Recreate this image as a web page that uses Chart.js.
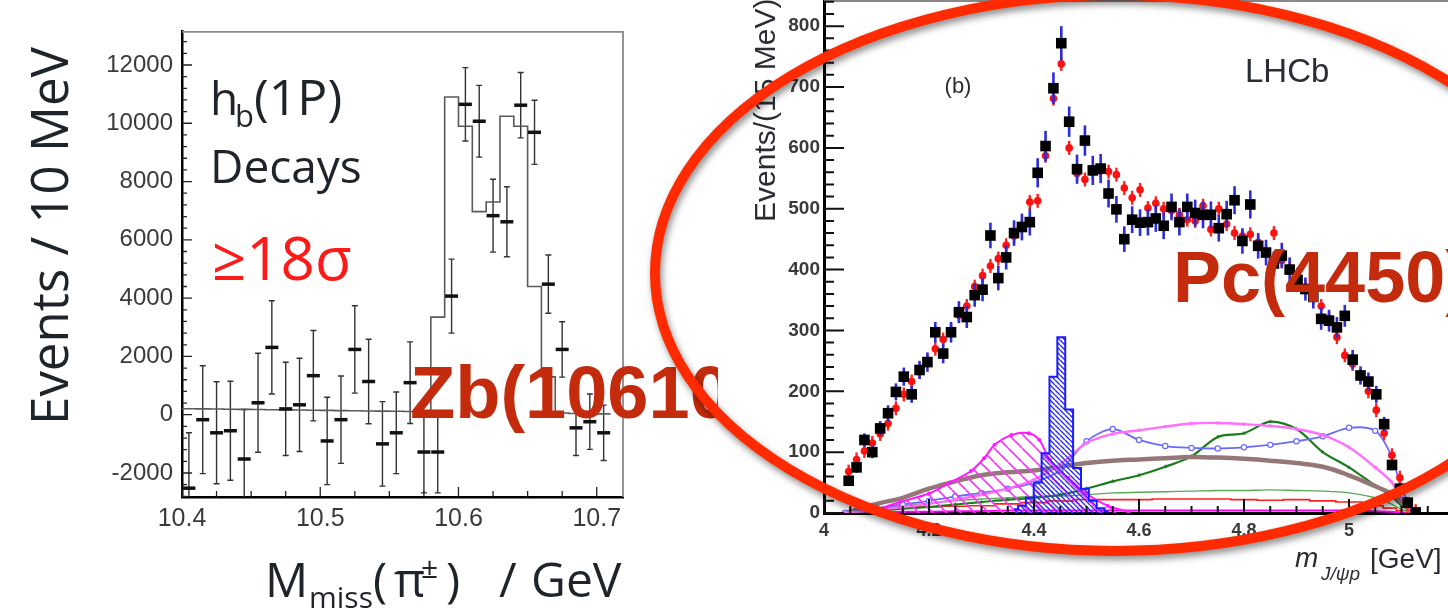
<!DOCTYPE html>
<html>
<head>
<meta charset="utf-8">
<script src="https://cdn.jsdelivr.net/npm/chart.js@4.4.1/dist/chart.umd.min.js"></script>
<style>
html, body { margin: 0; padding: 0; background: #fff; }
#wrap { position: relative; width: 1448px; height: 616px; overflow: hidden; }
#leftChart, #rightChart { position: absolute; left: 0; top: 0; }
</style>
</head>
<body>
<div id="wrap">
<canvas id="leftChart" width="718" height="616"></canvas>
<canvas id="rightChart" width="1448" height="616"></canvas>
</div>
<script>
// left panel : h_b(1P) yield vs missing mass (10 MeV bins)
var leftMass = [10.405,10.415,10.425,10.435,10.445,10.455,10.465,10.475,10.485,10.495,10.505,10.515,10.525,10.535,10.545,10.555,10.565,10.575,10.585,10.595,10.605,10.615,10.625,10.635,10.645,10.655,10.665,10.675,10.685,10.695,10.705];
var leftEvents = [-2520,-170,-620,-550,-1520,410,2310,200,340,1340,-900,-170,2240,1140,-1000,-620,1100,-1280,-1280,4070,10650,10070,6830,6620,10620,9690,4480,2240,-450,-240,-620];
var leftErrors = [1900,1850,1750,1700,1700,1700,1600,1600,1600,1550,1500,1500,1500,1450,1450,1400,1400,1400,1400,1270,1260,1230,1250,1200,1120,1100,1000,950,950,950,950];
var leftFit = [210,205,200,195,190,182,178,172,165,160,155,150,142,138,130,125,120,112,108,3350,10900,9900,6970,7300,10240,9900,4400,1300,60,40,30];
var leftYTicks = [-2000,0,2000,4000,6000,8000,10000,12000];
var leftXTicks = [10.4,10.5,10.6,10.7];

// right panel : LHCb m(J/psi p), 15 MeV bins
var rightMass = [4.047,4.062,4.077,4.092,4.107,4.122,4.137,4.152,4.167,4.182,
  4.197,4.212,4.227,4.242,4.257,4.272,4.287,4.302,4.317,4.332,
  4.347,4.362,4.377,4.392,4.407,4.422,4.437,4.452,4.467,4.482,
  4.497,4.512,4.527,4.542,4.557,4.572,4.587,4.602,4.617,4.632,
  4.647,4.662,4.677,4.692,4.707,4.722,4.737,4.752,4.767,4.782,
  4.797,4.812,4.827,4.842,4.857,4.872,4.887,4.902,4.917,4.932,
  4.947,4.962,4.977,4.992,5.007,5.022,5.037,5.052,5.067,5.082,
  5.097,5.112,5.127];
var rightData = [53,75,120,100,139,164,199,224,195,235,
  248,297,262,297,330,322,358,367,456,386,
  420,460,470,478,559,603,698,772,643,565,
  612,563,566,525,499,450,482,477,478,484,
  472,503,478,503,493,490,490,468,491,514,
  447,507,439,428,410,423,400,383,368,355,
  319,316,305,324,252,226,216,195,146,79,
  40,17,1];
var rightErrors = [7,9,11,10,12,13,14,15,14,15,
  16,17,16,17,18,18,19,19,21,20,
  20,21,22,22,24,25,26,28,25,24,
  25,24,24,23,22,21,22,22,22,22,
  22,22,22,22,22,22,22,22,22,23,
  21,23,21,21,20,21,20,20,19,19,
  18,18,17,18,16,15,15,14,12,9,
  6,4,1];
var rightFit = [68,88,102,115,130,147,172,195,216,232,
  250,270,285,300,325,340,372,390,406,418,
  440,455,470,511,513,587,681,738,600,558,
  548,560,562,561,556,534,518,531,501,509,
  500,497,490,482,480,505,466,500,475,460,
  455,458,445,430,460,415,403,390,371,355,
  340,320,289,259,245,225,200,169,131,95,
  58,15,3];

// fit components
var compMass = [4.04,4.1,4.15,4.2,4.25,4.3,4.35,4.4,4.45,4.5,4.55,4.6,4.65,4.7,4.75,4.8,4.85,4.9,4.95,5.0,5.05,5.08,5.1,5.12];
var brownComp = [0,15,25,40,52,62,67,70,76,82,86,88,90,92,91,89,86,82,76,62,44,32,18,3];
var blueComp = [0,8,14,20,27,33,40,50,70,118,138,120,110,107,106,108,112,118,126,140,135,95,40,5];
var pinkComp = [0,5,10,15,22,30,40,55,80,115,130,136,142,147,148,146,143,138,128,108,75,52,25,3];
var greenComp = [0,4,7,10,14,18,22,25,30,40,52,62,76,93,125,131,150,138,100,75,45,28,12,2];
var lightGreenComp = [0,8,12,16,20,23,25,27,28,30,33,34,35,36,37,37,38,37,36,33,25,15,6,1];
var redComp = [0,8,10,10,11,12,15,17,20,22,22,22,23,23,23,22,21,22,20,18,12,8,4,0];
var magentaLowComp = [0,1,2,2,3,3,4,4,4,4,4,4,4,4,4,4,4,4,4,4,3,2,1,0];
var lambdaMass = [4.10,4.145,4.2,4.24,4.28,4.305,4.325,4.357,4.39,4.41,4.43,4.465,4.5,4.54,4.58];
var lambdaComp = [5,18,32,50,69,90,112,128,131,120,88,58,32,12,2];
var narrowMass = [4.362,4.377,4.392,4.407,4.422,4.437,4.452,4.467,4.482,4.497,4.512,4.527,4.542];
var narrowComp = [6,12,25,50,98,224,289,170,74,40,20,8,3];

var rightYTicks = [0,100,200,300,400,500,600,700,800];
var rightXTicks = [4,4.2,4.4,4.6,4.8,5];

Chart.defaults.font.family = 'Liberation Sans';
Chart.defaults.animation = false;

function pts(xs, ys) {
  return xs.map(function (x, i) { return { x: x, y: ys[i] }; });
}

function hatch(color, gap, width) {
  var c = document.createElement('canvas');
  c.width = gap; c.height = gap;
  var g = c.getContext('2d');
  g.strokeStyle = color;
  g.lineWidth = width;
  g.beginPath();
  for (var k = -1; k <= 1; k++) {
    g.moveTo(k * gap, 0);
    g.lineTo(k * gap + gap, gap);
  }
  g.stroke();
  return g.createPattern(c, 'repeat');
}

function steps(from, to, step) {
  var out = [];
  var n = Math.round((to - from) / step);
  for (var k = 0; k <= n; k++) out.push(from + k * step);
  return out;
}

function noPad(s) {
  s.paddingTop = 0; s.paddingBottom = 0; s.paddingLeft = 0; s.paddingRight = 0;
}

// frame + inward tick marks
var frameTicks = {
  id: 'frameTicks',
  afterDraw: function (chart, args, o) {
    var ctx = chart.ctx, a = chart.chartArea, xs = chart.scales.x, ys = chart.scales.y;
    ctx.save();
    ctx.strokeStyle = o.frameColor;
    ctx.lineWidth = o.frameWidth;
    ctx.beginPath();
    ctx.moveTo(a.left, a.top + o.frameWidth / 2);
    ctx.lineTo(a.right, a.top + o.frameWidth / 2);
    if (o.rightSide) ctx.lineTo(a.right, a.bottom);
    ctx.stroke();
    ctx.strokeStyle = o.tickColor;
    ctx.lineWidth = o.tickWidth;
    ctx.beginPath();
    o.yMinor.forEach(function (v) {
      var p = ys.getPixelForValue(v);
      if (p < a.top || p > a.bottom) return;
      var len = o.yMajor.indexOf(v) >= 0 ? o.yMajorLen : o.yMinorLen;
      ctx.moveTo(a.left, p); ctx.lineTo(a.left + len, p);
    });
    o.xMinor.forEach(function (v) {
      var p = xs.getPixelForValue(v);
      if (p < a.left || p > a.right) return;
      var major = o.xMajor.some(function (m) { return Math.abs(m - v) < 1e-6; });
      ctx.moveTo(p, a.bottom); ctx.lineTo(p, a.bottom - (major ? o.xMajorLen : o.xMinorLen));
    });
    ctx.stroke();
    ctx.restore();
  }
};

function put(ctx, txt, x, y, font, color, align) {
  ctx.font = font;
  ctx.fillStyle = color;
  ctx.textAlign = align || 'left';
  ctx.fillText(txt, x, y);
}

// ---------- left chart ----------
var leftBars = {
  id: 'leftBars',
  beforeDatasetsDraw: function (chart) {
    var ctx = chart.ctx, a = chart.chartArea, xs = chart.scales.x, ys = chart.scales.y;
    ctx.save();
    ctx.beginPath();
    ctx.rect(a.left, a.top, a.right - a.left, a.bottom - a.top);
    ctx.clip();
    ctx.strokeStyle = '#333';
    ctx.lineWidth = 1.4;
    leftMass.forEach(function (m, i) {
      var px = xs.getPixelForValue(m);
      var lo = ys.getPixelForValue(leftEvents[i] - leftErrors[i]);
      var hi = ys.getPixelForValue(leftEvents[i] + leftErrors[i]);
      ctx.beginPath();
      ctx.moveTo(px, lo); ctx.lineTo(px, hi);
      ctx.moveTo(px - 3, lo); ctx.lineTo(px + 3, lo);
      ctx.moveTo(px - 3, hi); ctx.lineTo(px + 3, hi);
      ctx.stroke();
    });
    ctx.restore();
  }
};

var leftText = {
  id: 'leftText',
  afterDraw: function (chart) {
    var ctx = chart.ctx;
    var ink = '#1f242b';
    ctx.save();
    ctx.textBaseline = 'alphabetic';
    ctx.save();
    ctx.translate(68, 236);
    ctx.rotate(-Math.PI / 2);
    put(ctx, 'Events / 10 MeV', 0, 0, '51px "Open Sans"', ink, 'center');
    ctx.restore();

    put(ctx, 'M', 265, 597, '48px "Open Sans"', ink);
    put(ctx, 'miss', 309, 608, '30px "Open Sans"', ink);
    put(ctx, '(', 373, 597, '48px "Open Sans"', ink);
    put(ctx, '\u03c0', 394, 597, '48px "Open Sans"', ink);
    put(ctx, '\u00b1', 421, 578, '30px "Open Sans"', ink);
    put(ctx, ')', 446, 597, '48px "Open Sans"', ink);
    put(ctx, '/', 499, 597, '48px "Open Sans"', ink);
    put(ctx, 'GeV', 531, 597, '48px "Open Sans"', ink);

    put(ctx, 'h', 210, 115, '46px "Open Sans"', ink);
    put(ctx, 'b', 235, 127, '31px "Open Sans"', ink);
    put(ctx, '(1P)', 254, 115, '50px "Open Sans"', ink);
    put(ctx, 'Decays', 210, 183, '46px "Open Sans"', ink);
    put(ctx, '\u226518\u03c3', 212, 280, '60px "Open Sans"', '#ff1a1a');

    put(ctx, 'Zb(10610)', 410, 418, 'bold 74px "Liberation Sans"', '#c42a0c');
    ctx.restore();
  }
};

var leftHist = leftMass.map(function (m, i) { return { x: m - 0.005, y: leftFit[i] }; });
leftHist.push({ x: leftMass[leftMass.length - 1] + 0.005, y: leftFit[leftFit.length - 1] });

new Chart(document.getElementById('leftChart'), {
  type: 'scatter',
  data: {
    datasets: [{
      label: 'data',
      data: pts(leftMass, leftEvents),
      pointStyle: 'line',
      pointRadius: 6.5,
      pointBorderWidth: 3.5,
      pointBorderColor: '#111',
      showLine: false
    }, {
      type: 'line',
      label: 'fit',
      data: leftHist,
      stepped: 'after',
      borderColor: '#5a5a5a',
      borderWidth: 1.6,
      pointRadius: 0,
      fill: false
    }]
  },
  options: {
    responsive: false,
    layout: { autoPadding: false, padding: { top: 31, right: 95, left: 0, bottom: 0 } },
    plugins: {
      legend: { display: false },
      tooltip: { enabled: false },
      frameTicks: {
        frameColor: '#8a8a8a', frameWidth: 1.8, rightSide: true,
        tickColor: '#222', tickWidth: 1.3,
        yMinor: steps(-2800, 13200, 400), yMajor: leftYTicks, yMajorLen: 10, yMinorLen: 5,
        xMinor: steps(10.4, 10.7, 0.025), xMajor: leftXTicks, xMajorLen: 10, xMinorLen: 6
      }
    },
    scales: {
      x: {
        type: 'linear', min: 10.4, max: 10.719,
        afterBuildTicks: function (s) { s.ticks = leftXTicks.map(function (v) { return { value: v }; }); },
        afterFit: function (s) { s.height = 119; noPad(s); },
        grid: { display: false, drawTicks: false },
        border: { display: true, color: '#000', width: 2.5 },
        ticks: { padding: 7, maxRotation: 0, color: '#3a3a3a', font: { size: 25 },
          callback: function (v) { return String(v); } }
      },
      y: {
        type: 'linear', min: -2823, max: 13166,
        afterBuildTicks: function (s) { s.ticks = leftYTicks.map(function (v) { return { value: v }; }); },
        afterFit: function (s) { s.width = 182; noPad(s); },
        grid: { display: false, drawTicks: false },
        border: { display: true, color: '#000', width: 2.5 },
        ticks: { padding: 9, color: '#3a3a3a', font: { size: 24 },
          callback: function (v) { return String(v); } }
      }
    }
  },
  plugins: [leftBars, frameTicks, leftText]
});

// ---------- right chart ----------
var rightBars = {
  id: 'rightBars',
  beforeDatasetDraw: function (chart, args) {
    if (args.index !== 0 && args.index !== 1) return;
    var ctx = chart.ctx, a = chart.chartArea, xs = chart.scales.x, ys = chart.scales.y;
    ctx.save();
    ctx.beginPath();
    ctx.rect(a.left, a.top, a.right - a.left, a.bottom - a.top);
    ctx.clip();
    if (args.index === 0) {
      ctx.strokeStyle = '#2b2bd8';
      ctx.lineWidth = 2.6;
      rightMass.forEach(function (m, i) {
        var px = xs.getPixelForValue(m);
        ctx.beginPath();
        ctx.moveTo(px, ys.getPixelForValue(rightData[i] - rightErrors[i]));
        ctx.lineTo(px, ys.getPixelForValue(rightData[i] + rightErrors[i]));
        ctx.stroke();
      });
    } else {
      ctx.strokeStyle = '#ff2020';
      ctx.lineWidth = 2.4;
      rightMass.forEach(function (m, i) {
        var px = xs.getPixelForValue(m), py = ys.getPixelForValue(rightFit[i]);
        ctx.beginPath();
        ctx.moveTo(px, py - 7); ctx.lineTo(px, py + 7);
        ctx.stroke();
      });
    }
    ctx.restore();
  }
};

var rightText = {
  id: 'rightText',
  afterDraw: function (chart) {
    var ctx = chart.ctx;
    var ink = '#2a2d33';
    ctx.save();
    ctx.textBaseline = 'alphabetic';
    ctx.save();
    ctx.translate(775, 222);
    ctx.rotate(-Math.PI / 2);
    put(ctx, 'Events/(15 MeV)', 0, 0, '30px "Liberation Sans"', ink, 'left');
    ctx.restore();

    put(ctx, '(b)', 958, 93, '22px "Liberation Sans"', ink, 'center');
    put(ctx, 'LHCb', 1245, 82, '33px "Liberation Sans"', ink);

    put(ctx, 'm', 1295, 567, 'italic 28px "Liberation Sans"', ink);
    put(ctx, 'J/\u03c8p', 1321, 580, 'italic 19px "Liberation Sans"', ink);
    put(ctx, '[GeV]', 1370, 568, '28px "Liberation Sans"', ink);

    ctx.save();
    ctx.shadowColor = 'rgba(0,0,0,0.45)';
    ctx.shadowBlur = 7;
    ctx.shadowOffsetX = 2;
    ctx.shadowOffsetY = 4;
    ctx.strokeStyle = '#ff2a00';
    ctx.lineWidth = 10;
    ctx.beginPath();
    ctx.ellipse(1115, 273, 460, 278, 0, 0, Math.PI * 2);
    ctx.stroke();
    ctx.restore();

    put(ctx, 'Pc(4450)', 1173, 302, 'bold 72px "Liberation Sans"', '#c42a0c');
    ctx.restore();
  }
};

new Chart(document.getElementById('rightChart'), {
  type: 'scatter',
  data: {
    datasets: [{
      label: 'data',
      data: pts(rightMass, rightData),
      pointStyle: 'rect',
      pointRadius: 7.5,
      pointBackgroundColor: '#000',
      pointBorderWidth: 0,
      showLine: false
    }, {
      label: 'fit',
      data: pts(rightMass, rightFit),
      pointStyle: 'circle',
      pointRadius: 3.8,
      pointBackgroundColor: '#ff1010',
      pointBorderWidth: 0,
      showLine: false
    }, {
      type: 'line', label: 'Pc(4450)',
      data: pts(narrowMass, narrowComp),
      stepped: 'middle',
      borderColor: '#1a1aff', borderWidth: 2,
      backgroundColor: hatch('#2a2aff', 5, 1.4),
      fill: 'origin', pointRadius: 0
    }, {
      type: 'line', label: 'Pc(4380)',
      data: pts(lambdaMass, lambdaComp),
      borderColor: '#ff1aff', borderWidth: 2,
      backgroundColor: hatch('#ff33ff', 14, 1.6),
      fill: 'origin', pointRadius: 2, pointBackgroundColor: '#ff1aff', pointBorderWidth: 0,
      tension: 0.3
    }, {
      type: 'line', label: 'pink',
      data: pts(compMass, pinkComp),
      borderColor: '#ff70ff', borderWidth: 2.4,
      pointRadius: 1.8, pointBackgroundColor: '#ff70ff', pointBorderWidth: 0,
      tension: 0.3, fill: false
    }, {
      type: 'line', label: 'blue',
      data: pts(compMass, blueComp),
      borderColor: '#6a6aff', borderWidth: 1.8,
      pointRadius: 2.6, pointBackgroundColor: '#fff', pointBorderColor: '#6a6aff', pointBorderWidth: 1.2,
      tension: 0.3, fill: false
    }, {
      type: 'line', label: 'brown',
      data: pts(compMass, brownComp),
      borderColor: '#957777', borderWidth: 4.5,
      pointRadius: 0, tension: 0.4, fill: false
    }, {
      type: 'line', label: 'green',
      data: pts(compMass, greenComp),
      borderColor: '#1c7c1c', borderWidth: 2.2,
      pointStyle: 'triangle', pointRadius: 2.4, pointBackgroundColor: '#1c7c1c', pointBorderWidth: 0,
      tension: 0.3, fill: false
    }, {
      type: 'line', label: 'light green',
      data: pts(compMass, lightGreenComp),
      borderColor: '#5aa85a', borderWidth: 1.4,
      pointRadius: 0, tension: 0.3, fill: false
    }, {
      type: 'line', label: 'red',
      data: pts(compMass, redComp),
      stepped: 'middle',
      borderColor: '#ff2020', borderWidth: 1.6,
      pointRadius: 0, fill: false
    }, {
      type: 'line', label: 'magenta',
      data: pts(compMass, magentaLowComp),
      borderColor: '#ff00ff', borderWidth: 2,
      pointRadius: 0, tension: 0.3, fill: false
    }]
  },
  options: {
    responsive: false,
    layout: { autoPadding: false, padding: 0 },
    plugins: {
      legend: { display: false },
      tooltip: { enabled: false },
      frameTicks: {
        frameColor: '#888', frameWidth: 2, rightSide: false,
        tickColor: '#111', tickWidth: 2,
        yMinor: steps(0, 840, 20), yMajor: rightYTicks, yMajorLen: 20, yMinorLen: 10,
        xMinor: steps(4, 5.15, 0.05), xMajor: rightXTicks, xMajorLen: 14, xMinorLen: 7
      }
    },
    scales: {
      x: {
        type: 'linear', min: 4, max: 5.1886,
        afterBuildTicks: function (s) { s.ticks = rightXTicks.map(function (v) { return { value: v }; }); },
        afterFit: function (s) { s.height = 103; noPad(s); },
        grid: { display: false, drawTicks: false },
        border: { display: true, color: '#000', width: 3 },
        ticks: { padding: 7, maxRotation: 0, color: '#3a3a3a', font: { size: 18, weight: 'bold' },
          callback: function (v) { return String(v); } }
      },
      y: {
        type: 'linear', min: 0, max: 843,
        afterBuildTicks: function (s) { s.ticks = rightYTicks.map(function (v) { return { value: v }; }); },
        afterFit: function (s) { s.width = 824; noPad(s); },
        grid: { display: false, drawTicks: false },
        border: { display: true, color: '#000', width: 3 },
        ticks: { padding: 4, color: '#3a3a3a', font: { size: 19, weight: 'bold' },
          callback: function (v) { return String(v); } }
      }
    }
  },
  plugins: [rightBars, frameTicks, rightText]
});
</script>
</body>
</html>
